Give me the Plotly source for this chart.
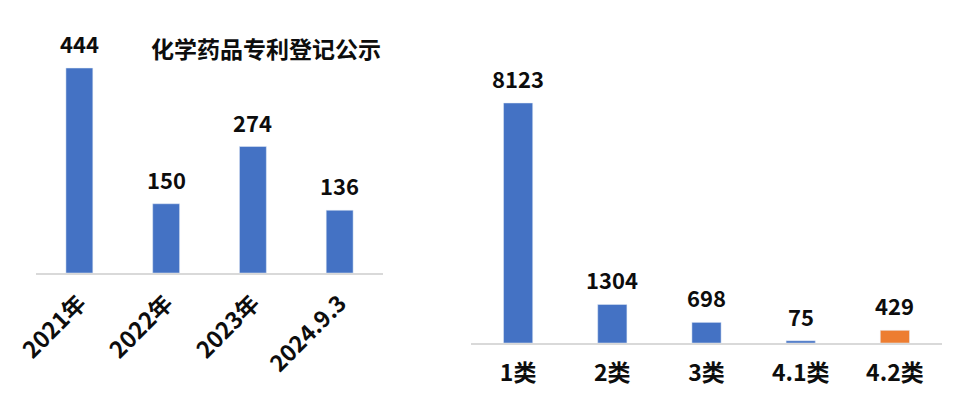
import plotly.graph_objects as go

# left panel: patent registrations by year
years = ["2021年", "2022年", "2023年", "2024.9.3"]
year_counts = [444, 150, 274, 136]

# right panel: by drug class
classes = ["1类", "2类", "3类", "4.1类", "4.2类"]
class_counts = [8123, 1304, 698, 75, 429]
class_colors = ["#4472C4", "#4472C4", "#4472C4", "#4472C4", "#ED7D31"]

title_text = "化学药品专利登记公示"

font_family = "Noto Sans CJK SC, Microsoft YaHei, sans-serif"
text_color = "#0d0d0d"

fig = go.Figure()

fig.add_trace(go.Bar(
    x=years, y=year_counts, marker_color="#4472C4",
    xaxis="x", yaxis="y", showlegend=False,
))
fig.add_trace(go.Bar(
    x=classes, y=class_counts, marker_color=class_colors,
    xaxis="x2", yaxis="y2", showlegend=False,
))

# value labels above the bars
annotations = []
for cat, val in zip(years, year_counts):
    annotations.append(dict(
        x=cat, y=val, xref="x", yref="y", text=f"<b>{val}</b>",
        showarrow=False, yanchor="bottom", yshift=7,
        font=dict(size=22, color=text_color, family=font_family),
    ))
for cat, val in zip(classes, class_counts):
    annotations.append(dict(
        x=cat, y=val, xref="x2", yref="y2", text=f"<b>{val}</b>",
        showarrow=False, yanchor="bottom", yshift=7,
        font=dict(size=22, color=text_color, family=font_family),
    ))
annotations.append(dict(
    x=0.2719, y=0.8987, xref="paper", yref="paper", text=f"<b>{title_text}</b>",
    showarrow=False, xanchor="center", yanchor="middle",
    font=dict(size=23, color=text_color, family=font_family),
))

axis_common = dict(
    showline=True, linecolor="#D9D9D9", linewidth=1.5,
    showgrid=False, zeroline=False, ticks="", automargin=False,
    tickfont=dict(size=23, color=text_color, family=font_family),
)

# page body has an 8px margin, so the figure is sized to fit inside it
fig.update_layout(
    width=949, height=395,
    margin=dict(l=0, r=0, t=0, b=0),
    paper_bgcolor="white", plot_bgcolor="white",
    bargap=0.69,
    font=dict(family=font_family, color=text_color),
    xaxis=dict(domain=[0.0295, 0.3952], tickangle=-45, ticklabelstandoff=6,
               **axis_common),
    yaxis=dict(domain=[0.3291, 1.0], range=[0, 574], visible=False),
    xaxis2=dict(domain=[0.4879, 0.9842], anchor="y2", ticklabelstandoff=9,
                **axis_common),
    yaxis2=dict(domain=[0.1519, 1.0], range=[0, 11338], visible=False,
                anchor="x2"),
    annotations=annotations,
)
fig.update_xaxes(tickprefix="<b>", ticksuffix="</b>")

fig.write_html("out.html")
